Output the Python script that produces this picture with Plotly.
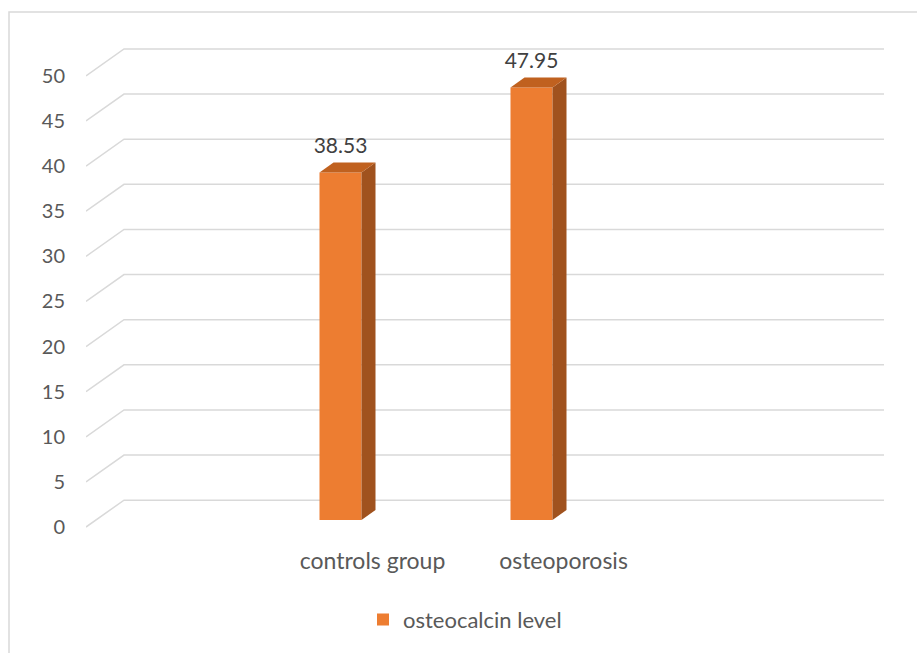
import plotly.graph_objects as go

# ---- data ----
categories = ["controls group", "osteoporosis"]
values = [38.53, 47.95]
series_name = "osteocalcin level"
y_ticks = [0, 5, 10, 15, 20, 25, 30, 35, 40, 45, 50]
slot_index = [1, 2]          # category slots on a 4-slot floor (blank first/last slot)
n_slots = 4

# ---- layout constants (pixels) ----
W, H = 917, 653
L, R, T, B = 86, 884, 40, 540
PX_X = 191.0                  # px per category slot
PX_Y = 9.06                   # px per value unit
FLOOR_FRONT_Y = 529           # px of value 0 on front plane

x_max = (R - L) / PX_X
y_min = -(B - FLOOR_FRONT_Y) / PX_Y
y_max = (FLOOR_FRONT_Y - T) / PX_Y

GRID_DX, GRID_DY = 38 / PX_X, 27 / PX_Y
BAR_SHIFT = -32 / PX_X
BAR_W = 42 / PX_X
BAR_LIFT = 7 / PX_Y
BAR_DX, BAR_DY = 14 / PX_X, 10 / PX_Y
LABEL_PAD = 4 / PX_Y

FRONT = "#ED7D31"
SIDE = "#A0521E"
TOP = "#C0611F"
GRID = "#D9D9D9"
TXT = "#595959"
FONT = "Lato"

fig = go.Figure()

# gridlines (perspective) as shapes below traces
for v in y_ticks:
    fig.add_shape(type="path", xref="x", yref="y", layer="below",
                  path=f"M 0,{v} L {GRID_DX},{v + GRID_DY} L {x_max},{v + GRID_DY}",
                  line=dict(color=GRID, width=1.5))

centers = [s + 0.5 + BAR_SHIFT for s in slot_index]

# front faces
fig.add_trace(go.Bar(x=centers, y=values, base=BAR_LIFT, width=BAR_W,
                     marker=dict(color=FRONT, line=dict(width=0)),
                     name=series_name, showlegend=True, hoverinfo="skip"))

for c, v in zip(centers, values):
    x0, x1 = c - BAR_W / 2, c + BAR_W / 2
    y0, y1 = BAR_LIFT, BAR_LIFT + v
    # side face
    fig.add_trace(go.Scatter(
        x=[x1, x1 + BAR_DX, x1 + BAR_DX, x1, x1],
        y=[y0, y0 + BAR_DY, y1 + BAR_DY, y1, y0],
        fill="toself", fillcolor=SIDE, mode="lines", line=dict(width=0, color=SIDE),
        showlegend=False, hoverinfo="skip"))
    # top face
    fig.add_trace(go.Scatter(
        x=[x0, x1, x1 + BAR_DX, x0 + BAR_DX, x0],
        y=[y1, y1, y1 + BAR_DY, y1 + BAR_DY, y1],
        fill="toself", fillcolor=TOP, mode="lines", line=dict(width=0, color=TOP),
        showlegend=False, hoverinfo="skip"))

# data labels
fig.add_trace(go.Scatter(
    x=centers, y=[BAR_LIFT + v + BAR_DY + LABEL_PAD for v in values],
    text=[f"{v:.2f}" for v in values], mode="text", textposition="top center",
    textfont=dict(family=FONT, size=21, color="#404040"),
    showlegend=False, hoverinfo="skip"))

# chart border
fig.add_shape(type="rect", xref="paper", yref="paper",
              x0=(9 - L) / (R - L), x1=1.2, y0=-0.4, y1=(B - 12) / (B - T),
              line=dict(color=GRID, width=1.5), layer="below")

fig.update_layout(
    width=W, height=H,
    margin=dict(l=L, r=W - R, t=T, b=H - B),
    paper_bgcolor="white", plot_bgcolor="white",
    font=dict(family=FONT, size=20, color=TXT),
    showlegend=True,
    legend=dict(orientation="h", x=(465 - L) / (R - L), xanchor="center",
                y=(B - 622) / (B - T), yanchor="middle",
                font=dict(family=FONT, size=22, color=TXT)),
    xaxis=dict(range=[0, x_max], showgrid=False, zeroline=False, showline=False,
               tickvals=[s + 0.5 for s in slot_index], ticktext=categories,
               tickfont=dict(family=FONT, size=23, color=TXT),
               ticks="", ticklabelstandoff=7, fixedrange=True),
    yaxis=dict(range=[y_min, y_max], showgrid=False, zeroline=False, showline=False,
               tickvals=y_ticks, ticktext=[str(t) for t in y_ticks],
               tickfont=dict(family=FONT, size=20, color=TXT),
               ticks="", ticklabelstandoff=20, fixedrange=True),
)

fig.write_html("out.html")
